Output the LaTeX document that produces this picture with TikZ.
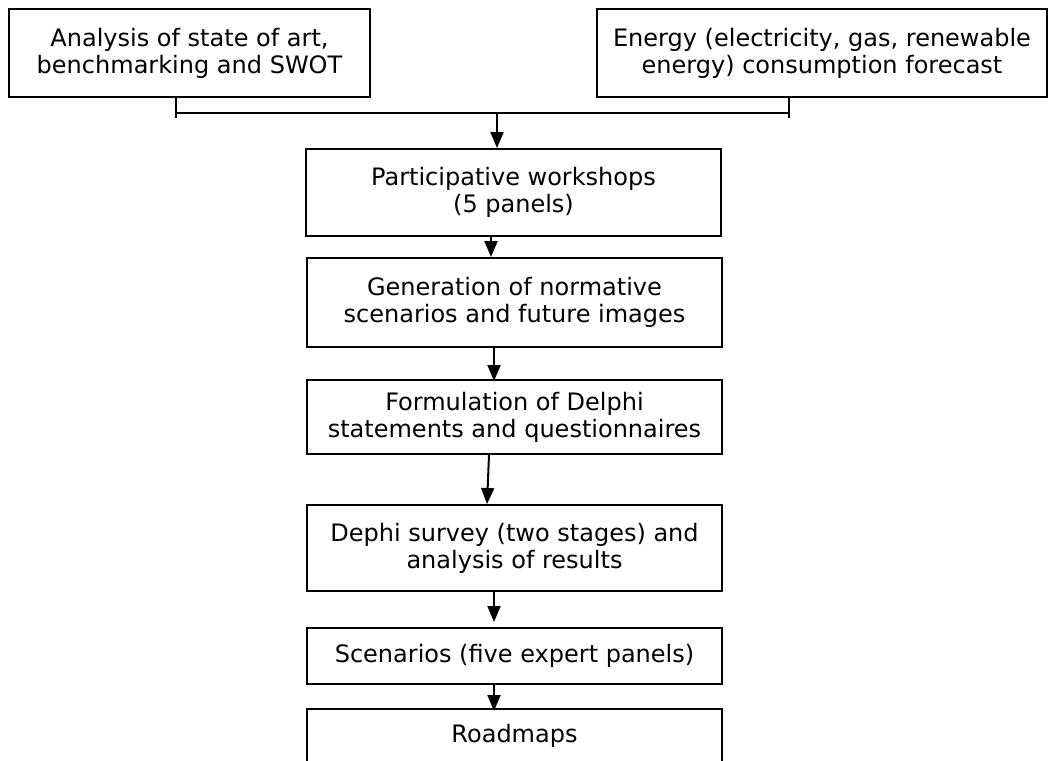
\documentclass[tikz,border=0pt]{standalone}
\usepackage{fontspec}
\setmainfont{DejaVu Sans}
\usetikzlibrary{arrows.meta}

\begin{document}
\begin{tikzpicture}[x=0.5pt, y=-0.5pt,
	box/.style={draw, line width=1pt, align=center, minimum width=207.5pt, inner sep=2pt, font=\fontsize{12}{13.5}\selectfont},
	link/.style={line width=1pt},
	arr/.style={line width=1pt, -{Triangle[width=6.5pt, length=8pt]}}]
	\useasboundingbox (0,0) rectangle (1049,760);

	\node[box, minimum width=180.5pt, minimum height=44pt] (ana) at (189.5,53) {Analysis of state of art,\\benchmarking and SWOT};
	\node[box, minimum width=225pt, minimum height=44pt] (ene) at (822,53) {Energy (electricity, gas, renewable\\energy) consumption forecast};
	\node[box, minimum height=43.5pt] (part) at (513.5,192.5) {Participative workshops\\(5 panels)};
	\node[box, minimum height=44.5pt] (gen) at (514.5,302.5) {Generation of normative\\scenarios and future images};
	\node[box, minimum height=37pt] (form) at (514.5,417) {Formulation of Delphi\\statements and questionnaires};
	\node[box, minimum height=43pt] (dephi) at (514.5,548) {Dephi survey (two stages) and\\analysis of results};
	\node[box, minimum height=28pt] (scen) at (514.5,656) {Scenarios (five expert panels)};
	\node[box, minimum height=27pt] (road) at (514.5,736) {Roadmaps};

	\coordinate (jL) at (176,113);
	\coordinate (jR) at (789,113);
	\coordinate (jM) at (497,113);
	\coordinate (c1) at (491,0);
	\coordinate (c2) at (494,0);
	\coordinate (c3) at (489,0);
	\coordinate (c4) at (487,0);

	\draw[link] (ana.south -| jL) -- ++(0,20)
	            (ene.south -| jR) -- ++(0,20)
	            (jL) -- (jR);
	\draw[arr] (jM) -- (part.north -| jM);
	\draw[arr] (part.south -| c1) -- (gen.north -| c1);
	\draw[arr] (gen.south -| c2) -- ([yshift=-1pt]form.north -| c2);
	\draw[arr] (form.south -| c3) -- (dephi.north -| c4);
	\draw[arr] (dephi.south -| c2) -- ([yshift=2.5pt]scen.north -| c2);
	\draw[arr] (scen.south -| c2) -- ([yshift=-1.5pt]road.north -| c2);
\end{tikzpicture}
\end{document}
